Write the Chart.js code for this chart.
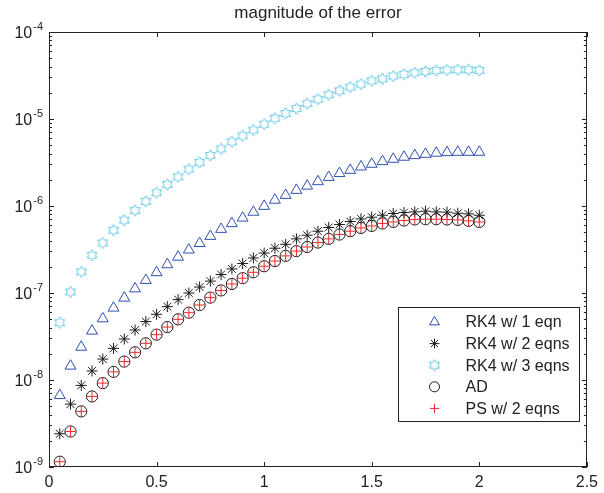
<!DOCTYPE html>
<html>
<head>
  <meta charset="utf-8">
  <title>magnitude of the error</title>
  <style>
    * { margin: 0; padding: 0; }
    body { background: #fff; }
    #wrap { width: 604px; height: 493px; }
  </style>
  <script src="https://cdn.jsdelivr.net/npm/chart.js"></script>
</head>
<body>
  <div id="wrap"><canvas id="errChart" width="604" height="493"></canvas></div>
  <script>
    // step sizes (x) and error magnitudes
    const xValues = [0.05, 0.1, 0.15, 0.2, 0.25, 0.3, 0.35, 0.4, 0.45, 0.5,
      0.55, 0.6, 0.65, 0.7, 0.75, 0.8, 0.85, 0.9, 0.95, 1.0,
      1.05, 1.1, 1.15, 1.2, 1.25, 1.3, 1.35, 1.4, 1.45, 1.5,
      1.55, 1.6, 1.65, 1.7, 1.75, 1.8, 1.85, 1.9, 1.95, 2.0];

    const rk4One = [6.65e-9, 1.45e-8, 2.39e-8, 3.66e-8, 5.07e-8, 6.73e-8, 8.77e-8, 1.12e-7, 1.40e-7, 1.72e-7,
      2.12e-7, 2.59e-7, 3.13e-7, 3.72e-7, 4.49e-7, 5.41e-7, 6.30e-7, 7.29e-7, 8.51e-7, 9.95e-7,
      1.17e-6, 1.33e-6, 1.52e-6, 1.70e-6, 1.91e-6, 2.14e-6, 2.37e-6, 2.58e-6, 2.82e-6, 3.03e-6,
      3.25e-6, 3.46e-6, 3.65e-6, 3.81e-6, 3.94e-6, 4.06e-6, 4.12e-6, 4.16e-6, 4.16e-6, 4.16e-6];

    const rk4Two = [2.41e-9, 5.28e-9, 8.67e-9, 1.27e-8, 1.74e-8, 2.31e-8, 2.96e-8, 3.75e-8, 4.69e-8, 5.69e-8,
      6.97e-8, 8.39e-8, 1.00e-7, 1.17e-7, 1.37e-7, 1.63e-7, 1.89e-7, 2.18e-7, 2.53e-7, 2.88e-7,
      3.27e-7, 3.63e-7, 4.19e-7, 4.61e-7, 5.13e-7, 5.66e-7, 6.12e-7, 6.64e-7, 7.11e-7, 7.43e-7,
      7.83e-7, 8.20e-7, 8.41e-7, 8.55e-7, 8.71e-7, 8.55e-7, 8.49e-7, 8.26e-7, 8.11e-7, 7.83e-7];

    const rk4Three = [4.56e-8, 1.03e-7, 1.75e-7, 2.72e-7, 3.76e-7, 5.27e-7, 6.87e-7, 8.87e-7, 1.13e-6, 1.42e-6,
      1.77e-6, 2.16e-6, 2.65e-6, 3.17e-6, 3.81e-6, 4.54e-6, 5.47e-6, 6.41e-6, 7.48e-6, 8.73e-6,
      1.02e-5, 1.16e-5, 1.32e-5, 1.50e-5, 1.69e-5, 1.90e-5, 2.11e-5, 2.33e-5, 2.52e-5, 2.75e-5,
      2.90e-5, 3.12e-5, 3.26e-5, 3.40e-5, 3.52e-5, 3.62e-5, 3.66e-5, 3.68e-5, 3.68e-5, 3.62e-5];

    const adValues = [1.15e-9, 2.56e-9, 4.36e-9, 6.47e-9, 9.20e-9, 1.24e-8, 1.63e-8, 2.08e-8, 2.64e-8, 3.32e-8,
      4.06e-8, 4.98e-8, 5.94e-8, 7.28e-8, 8.85e-8, 1.07e-7, 1.27e-7, 1.48e-7, 1.73e-7, 2.03e-7,
      2.33e-7, 2.67e-7, 3.03e-7, 3.38e-7, 3.80e-7, 4.19e-7, 4.70e-7, 5.13e-7, 5.60e-7, 5.90e-7,
      6.30e-7, 6.56e-7, 6.81e-7, 7.00e-7, 7.05e-7, 7.05e-7, 7.00e-7, 6.92e-7, 6.75e-7, 6.56e-7];

    const psValues = [1.15e-9, 2.56e-9, 4.36e-9, 6.47e-9, 9.20e-9, 1.24e-8, 1.63e-8, 2.08e-8, 2.64e-8, 3.32e-8,
      4.06e-8, 4.98e-8, 5.94e-8, 7.28e-8, 8.85e-8, 1.07e-7, 1.27e-7, 1.48e-7, 1.73e-7, 2.03e-7,
      2.33e-7, 2.67e-7, 3.03e-7, 3.38e-7, 3.80e-7, 4.19e-7, 4.70e-7, 5.13e-7, 5.60e-7, 5.90e-7,
      6.30e-7, 6.56e-7, 6.81e-7, 7.00e-7, 7.05e-7, 7.05e-7, 7.00e-7, 6.92e-7, 6.75e-7, 6.56e-7];

    const seriesNames = ['RK4 w/ 1 eqn', 'RK4 w/ 2 eqns', 'RK4 w/ 3 eqns', 'AD', 'PS w/ 2 eqns'];
    const xTicks = [0, 0.5, 1, 1.5, 2, 2.5];
    const yTickExps = [-9, -8, -7, -6, -5, -4];

    const FONT = "'Liberation Sans', Arial, Helvetica, sans-serif";
    const INK = '#222';

    // hexagram marker (matlab 'h'), chart.js has no such point style
    function makeHexagram(color, R) {
      const c = document.createElement('canvas');
      const s = 2 * Math.ceil(R + 1) + 1;
      c.width = s; c.height = s;
      const g = c.getContext('2d');
      const r = R / Math.sqrt(3);
      g.beginPath();
      for (let i = 0; i < 12; i++) {
        const a = -Math.PI / 2 + i * Math.PI / 6;
        const rr = i % 2 === 0 ? R : r;
        const px = s / 2 + rr * Math.cos(a), py = s / 2 + rr * Math.sin(a);
        if (i === 0) g.moveTo(px, py); else g.lineTo(px, py);
      }
      g.closePath();
      g.strokeStyle = color;
      g.lineWidth = 1;
      g.stroke();
      return c;
    }
    const hexStar = makeHexagram('#5cc6e4', 5.7);

    const pts = vals => xValues.map((x, i) => ({ x: x, y: vals[i] }));

    const datasets = [
      { label: seriesNames[0], data: pts(rk4One), pointStyle: 'triangle', pointRadius: 6.3,
        borderColor: '#2f50b2', backgroundColor: 'rgba(0,0,0,0)', pointBorderWidth: 1, order: 5 },
      { label: seriesNames[1], data: pts(rk4Two), pointStyle: 'star', pointRadius: 5.5,
        borderColor: '#1c1c1c', backgroundColor: 'rgba(0,0,0,0)', pointBorderWidth: 1, order: 4 },
      { label: seriesNames[2], data: pts(rk4Three), pointStyle: hexStar, pointRadius: 6,
        borderColor: '#5cc6e4', backgroundColor: 'rgba(0,0,0,0)', pointBorderWidth: 1, order: 3 },
      { label: seriesNames[3], data: pts(adValues), pointStyle: 'circle', pointRadius: 5.6,
        borderColor: '#1c1c1c', backgroundColor: 'rgba(0,0,0,0)', pointBorderWidth: 1, order: 2 },
      { label: seriesNames[4], data: pts(psValues), pointStyle: 'cross', pointRadius: 5.2,
        borderColor: '#f02a2a', backgroundColor: 'rgba(0,0,0,0)', pointBorderWidth: 1, order: 1 }
    ];
    datasets.forEach(d => { d.showLine = false; d.pointHoverRadius = d.pointRadius; });

    // box, inward ticks, y labels with superscripts, legend
    const matlabAxes = {
      id: 'matlabAxes',
      afterDraw(chart) {
        const ctx = chart.ctx;
        const a = chart.chartArea;
        const xs = chart.scales.x, ys = chart.scales.y;
        ctx.save();
        ctx.strokeStyle = INK;
        ctx.lineWidth = 1;
        ctx.strokeRect(Math.round(a.left) + 0.5, Math.round(a.top) + 0.5,
          Math.round(a.right - a.left) - 1, Math.round(a.bottom - a.top) - 1);

        ctx.beginPath();
        xTicks.forEach(v => {
          const px = Math.round(xs.getPixelForValue(v)) + 0.5;
          ctx.moveTo(px, a.bottom); ctx.lineTo(px, a.bottom - 5);
          ctx.moveTo(px, a.top); ctx.lineTo(px, a.top + 5);
        });
        yTickExps.forEach(e => {
          const py = Math.round(ys.getPixelForValue(Math.pow(10, e))) + 0.5;
          ctx.moveTo(a.left, py); ctx.lineTo(a.left + 5, py);
          ctx.moveTo(a.right, py); ctx.lineTo(a.right - 5, py);
          if (e < -4) {
            for (let k = 2; k <= 9; k++) {
              const pm = Math.round(ys.getPixelForValue(k * Math.pow(10, e))) + 0.5;
              ctx.moveTo(a.left, pm); ctx.lineTo(a.left + 3, pm);
              ctx.moveTo(a.right, pm); ctx.lineTo(a.right - 3, pm);
            }
          }
        });
        ctx.stroke();

        // y tick labels 10^e
        ctx.fillStyle = INK;
        ctx.textBaseline = 'alphabetic';
        ctx.textAlign = 'left';
        yTickExps.forEach(e => {
          const py = ys.getPixelForValue(Math.pow(10, e));
          const base = '10', sup = '-' + Math.abs(e);
          ctx.font = '16px ' + FONT;
          const wb = ctx.measureText(base).width;
          ctx.font = '11px ' + FONT;
          const ws = ctx.measureText(sup).width;
          const x0 = a.left - 6 - wb - ws - 1;
          ctx.font = '16px ' + FONT;
          ctx.fillText(base, x0, py + 6);
          ctx.font = '11px ' + FONT;
          ctx.fillText(sup, x0 + wb + 1, py - 2.5);
        });

        // legend box
        const lw = 181, lh = 114;
        const lx = Math.round(a.right - 8 - lw) + 0.5, ly = Math.round(a.bottom - 46 - lh) + 0.5;
        ctx.fillStyle = '#fff';
        ctx.fillRect(lx, ly, lw, lh);
        ctx.strokeStyle = INK;
        ctx.strokeRect(lx, ly, lw, lh);
        ctx.font = '16px ' + FONT;
        ctx.textBaseline = 'middle';
        chart.data.datasets.forEach((d, i) => {
          const ry = ly + 14.5 + i * 21.6;
          const mx = lx + 36;
          ctx.strokeStyle = d.borderColor;
          ctx.fillStyle = 'rgba(0,0,0,0)';
          ctx.lineWidth = 1;
          Chart.helpers.drawPoint(ctx, { pointStyle: d.pointStyle, radius: d.pointRadius * 0.9,
            borderWidth: 1, rotation: 0 }, mx, ry);
          ctx.fillStyle = INK;
          ctx.fillText(d.label, lx + 67, ry + 1);
        });
        ctx.restore();
      }
    };

    new Chart(document.getElementById('errChart'), {
      type: 'scatter',
      data: { datasets: datasets },
      options: {
        responsive: false,
        animation: false,
        events: [],
        layout: { padding: { left: 0, right: 11, top: 0, bottom: 0 } },
        plugins: {
          legend: { display: false },
          tooltip: { enabled: false },
          title: {
            display: true,
            fullSize: false,
            text: 'magnitude of the error',
            color: INK,
            font: { family: FONT, size: 17, weight: 'normal', lineHeight: 1.2 },
            padding: { top: 3, bottom: 8.6 }
          }
        },
        scales: {
          x: {
            type: 'linear',
            min: 0, max: 2.5,
            afterBuildTicks: s => { s.ticks = xTicks.map(v => ({ value: v })); },
            afterFit: s => { s.height = 26; },
            ticks: { color: INK, font: { family: FONT, size: 16 }, padding: 6, maxRotation: 0,
              callback: v => String(v) },
            grid: { display: false, drawTicks: false },
            border: { display: false }
          },
          y: {
            type: 'logarithmic',
            min: 1e-9, max: 1e-4,
            afterFit: s => { s.width = 49; },
            ticks: { display: false },
            grid: { display: false, drawTicks: false },
            border: { display: false }
          }
        }
      },
      plugins: [matlabAxes]
    });
  </script>
</body>
</html>
